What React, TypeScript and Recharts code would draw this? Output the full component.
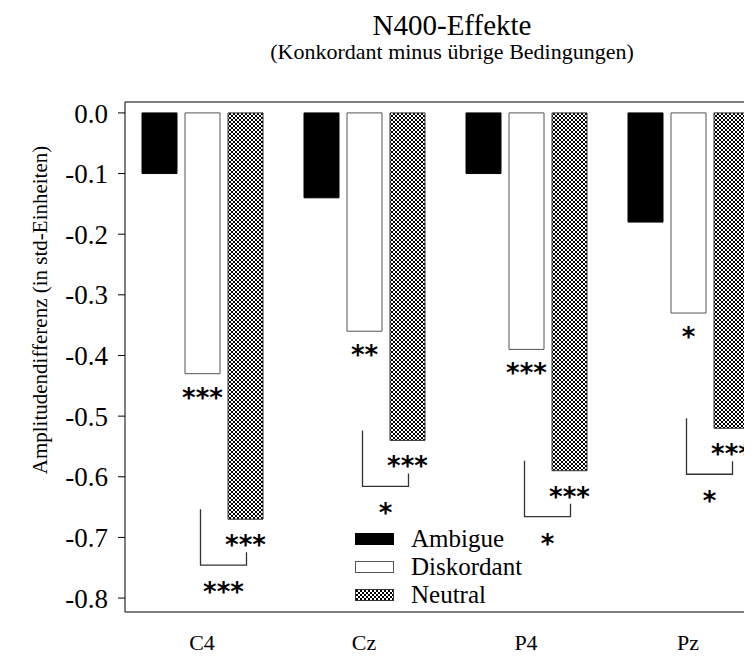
import { BarChart, Bar, XAxis, YAxis, Legend, LabelList } from 'recharts';

const categories = ['C4', 'Cz', 'P4', 'Pz'];
const ambigue = [-0.1, -0.14, -0.1, -0.18];
const diskordant = [-0.43, -0.36, -0.39, -0.33];
const neutral = [-0.67, -0.54, -0.59, -0.52];

// significance marks under the bars and under the Diskordant/Neutral bracket
const diskordantSig = ['***', '**', '***', '*'];
const neutralSig = ['***', '***', '***', '***'];
const differenceSig = ['***', '*', '*', '*'];

const yTicks = [0, -0.1, -0.2, -0.3, -0.4, -0.5, -0.6, -0.7, -0.8];

const series = [
  { key: 'ambigue', name: 'Ambigue', fill: '#000', stroke: '#000' },
  { key: 'diskordant', name: 'Diskordant', fill: '#fff', stroke: '#555' },
  { key: 'neutral', name: 'Neutral', fill: 'url(#crosshatch)', stroke: '#333' },
];

const data = categories.map((name, i) => ({
  name,
  ambigue: ambigue[i],
  diskordant: diskordant[i],
  neutral: neutral[i],
}));

const SERIF = 'Liberation Serif, DejaVu Serif, serif';
const BAR_SIZE = 35;
const BAR_GAP = 8;

const Stars = ({ cx, cy, text }: { cx: number; cy: number; text: string }) => (
  <text
    x={cx}
    y={cy + 13}
    textAnchor="middle"
    style={{ fontFamily: 'DejaVu Sans, sans-serif', fontSize: 26, fontWeight: 'bold' }}
    fill="#000"
  >
    {text}
  </text>
);

const barBox = (props: any) => {
  const vb = props.viewBox ?? props;
  const bottom = Math.max(vb.y, vb.y + vb.height);
  return { x: vb.x, width: Math.abs(vb.width), bottom };
};

const renderDiskLabel = (props: any) => {
  const { x, width, bottom } = barBox(props);
  return <Stars cx={x + width / 2} cy={bottom + 20} text={diskordantSig[props.index]} />;
};

const renderNeutralLabel = (props: any) => {
  const { x, width, bottom } = barBox(props);
  const i = props.index;
  const cx = x + width / 2;
  const leftX = x - BAR_GAP - width / 2 - 2;
  const rightX = cx + 1;
  return (
    <g>
      <Stars cx={cx} cy={bottom + 22} text={neutralSig[i]} />
      <polyline
        points={`${leftX},${bottom - 10} ${leftX},${bottom + 46} ${rightX},${bottom + 46} ${rightX},${bottom + 33}`}
        fill="none"
        stroke="#333"
        strokeWidth={1.3}
      />
      <Stars cx={(leftX + rightX) / 2} cy={bottom + 69} text={differenceSig[i]} />
    </g>
  );
};

const renderYLabel = () => (
  <text
    transform="translate(47,310) rotate(-90)"
    textAnchor="middle"
    style={{ fontFamily: SERIF, fontSize: 21 }}
    fill="#000"
  >
    Amplitudendifferenz (in std-Einheiten)
  </text>
);

const renderLegend = () => (
  <svg width={200} height={90} style={{ overflow: 'visible' }}>
    <defs>
      <pattern id="crosshatch-legend" width={4} height={4} patternUnits="userSpaceOnUse">
        <rect width={4} height={4} fill="#fff" />
        <path d="M0,0L4,4M4,0L0,4" stroke="#000" strokeWidth={1} />
      </pattern>
    </defs>
    {series.map((s, i) => (
      <g key={s.key}>
        <rect
          x={0.5}
          y={i * 28 + 8.5}
          width={38}
          height={11}
          fill={s.key === 'neutral' ? 'url(#crosshatch-legend)' : s.fill}
          stroke={s.stroke}
        />
        <text x={56} y={i * 28 + 22} style={{ fontFamily: SERIF, fontSize: 25 }} fill="#000">
          {s.name}
        </text>
      </g>
    ))}
  </svg>
);

export default function App() {
  return (
    <div style={{ margin: -8, width: 752, height: 659, overflow: 'hidden', position: 'relative', background: '#fff' }}>
      <style>{`.recharts-cartesian-axis-tick-value { font-family: ${SERIF}; }`}</style>
      <BarChart
        width={800}
        height={659}
        data={data}
        margin={{ top: 101, right: 31, bottom: 0, left: 0 }}
        barSize={BAR_SIZE}
        barGap={BAR_GAP}
      >
        <defs>
          <pattern id="crosshatch" width={4} height={4} patternUnits="userSpaceOnUse">
            <rect width={4} height={4} fill="#fff" />
            <path d="M0,0L4,4M4,0L0,4" stroke="#000" strokeWidth={1} />
          </pattern>
        </defs>
        <XAxis
          dataKey="name"
          axisLine={{ stroke: '#000' }}
          tickLine={false}
          tickSize={0}
          tickMargin={22}
          height={47}
          padding={{ left: -4, right: 0 }}
          tick={{ fontSize: 22, fill: '#000' }}
        />
        <XAxis
          xAxisId="top"
          orientation="top"
          dataKey="name"
          tick={false}
          tickLine={false}
          height={1}
          axisLine={{ stroke: '#000' }}
          padding={{ left: -4, right: 0 }}
        />
        <YAxis
          domain={[-0.823, 0.018]}
          ticks={yTicks}
          tickFormatter={(v: number) => v.toFixed(1)}
          width={125}
          axisLine={{ stroke: '#000' }}
          tickLine={{ stroke: '#000' }}
          tickSize={7}
          tickMargin={10}
          tick={{ fontSize: 27, fill: '#000' }}
          label={{ content: renderYLabel }}
        />
        <Legend
          content={renderLegend}
          layout="horizontal"
          verticalAlign="middle"
          align="center"
          wrapperStyle={{ left: 355, top: 525, width: 200, height: 90 }}
        />
        {series.map((s) => (
          <Bar
            key={s.key}
            dataKey={s.key}
            name={s.name}
            fill={s.fill}
            stroke={s.stroke}
            strokeWidth={1}
            isAnimationActive={false}
          >
            {s.key === 'diskordant' && <LabelList dataKey={s.key} content={renderDiskLabel} />}
            {s.key === 'neutral' && <LabelList dataKey={s.key} content={renderNeutralLabel} />}
          </Bar>
        ))}
      </BarChart>
      <svg width={752} height={80} style={{ position: 'absolute', left: 0, top: 0, pointerEvents: 'none' }}>
        <text x={452} y={35} textAnchor="middle" style={{ fontFamily: SERIF, fontSize: 29 }} fill="#000">
          N400-Effekte
        </text>
        <text x={452} y={59} textAnchor="middle" style={{ fontFamily: SERIF, fontSize: 22 }} fill="#000">
          (Konkordant minus übrige Bedingungen)
        </text>
      </svg>
    </div>
  );
}
